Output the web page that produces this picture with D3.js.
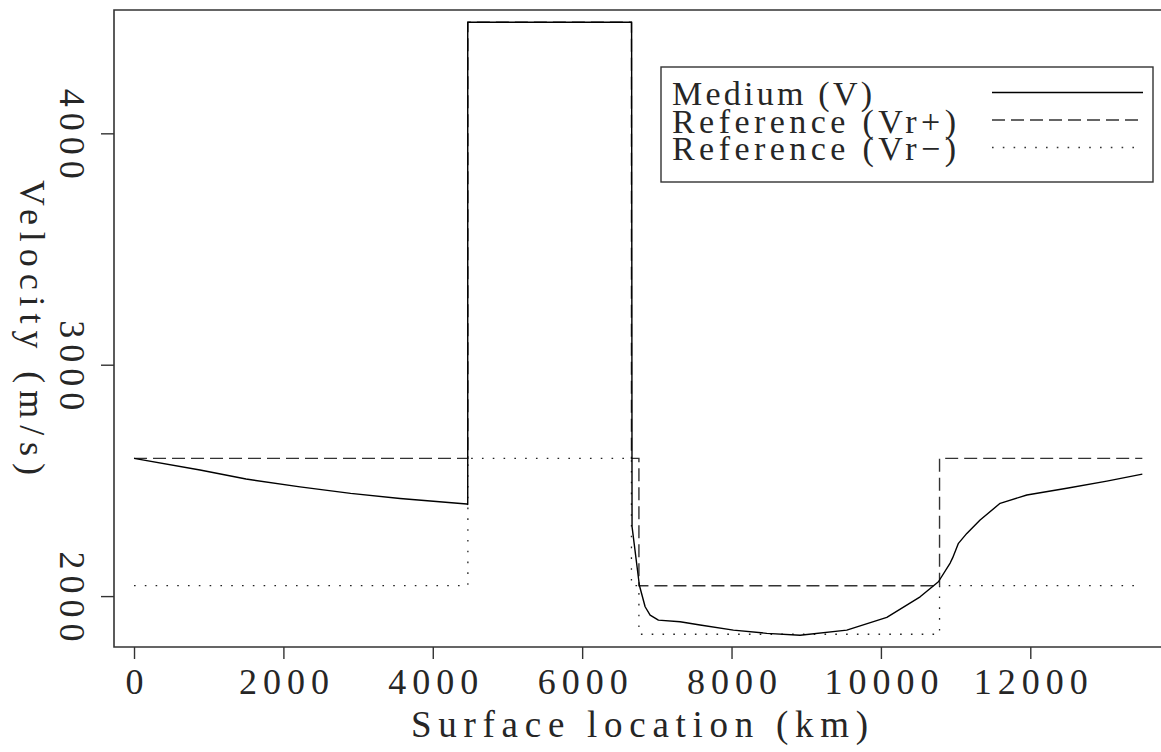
<!DOCTYPE html>
<html>
<head>
<meta charset="utf-8">
<script src="https://d3js.org/d3.v7.min.js"></script>
<style>
  body { margin: 0; background: #fff; }
  text { font-family: "Liberation Serif", "DejaVu Serif", serif; fill: #262626; }
</style>
</head>
<body>
<script>
// medium velocity V(x)
var mediumX = [0, 884, 1500, 2223, 2900, 3562, 4455, 4468, 4468, 6662, 6668, 6766, 6843, 6910, 7021, 7311, 7579,
  8025, 8472, 8918, 9543, 10079, 10525, 10770, 10927, 10960, 11038, 11150, 11328, 11596, 11954,
  12489, 13025, 13500];
var mediumV = [2595, 2545, 2506, 2472, 2444, 2422, 2398, 2396, 4480, 4480, 2300, 2047, 1954, 1918, 1896, 1889, 1875,
  1853, 1839, 1831, 1853, 1908, 1997, 2062, 2143, 2165, 2228, 2271, 2329, 2401, 2437,
  2466, 2497, 2527];

// reference velocities, piecewise constant between the breaks
var refBreaks = [0, 4470, 6660, 6760, 10785, 13500];
var refPlus = [2595, 4480, 2595, 2045, 2595];
var refMinus = [2045, 2595, 2045, 1835, 2045];

var xTicks = [0, 2000, 4000, 6000, 8000, 10000, 12000];
var yTicks = [2000, 3000, 4000];
var legendLabels = ["Medium (V)", "Reference (Vr+)", "Reference (Vr\u2212)"];

var W = 1161, H = 752;
// note: "top" is taken by window.top, so prefix these
var pLeft = 114, pTop = 10, pBottom = 647, pRight = 1161;

var svg = d3.select("body").append("svg")
  .attr("width", W)
  .attr("height", H);

var x = d3.scaleLinear().domain([-268, 13750]).range([pLeft, pRight]);
var y = d3.scaleLinear().domain([1780, 4533]).range([pBottom, pTop]);

var ink = "#262626";

// step series -> point list (last value carried to the end)
function stepPoints(breaks, vals) {
  var pts = vals.map(function(v, i) { return [breaks[i], v]; });
  pts.push([breaks[breaks.length - 1], vals[vals.length - 1]]);
  return pts;
}

var line = d3.line()
  .x(function(d) { return x(d[0]); })
  .y(function(d) { return y(d[1]); });
var stepLine = d3.line()
  .x(function(d) { return x(d[0]); })
  .y(function(d) { return y(d[1]); })
  .curve(d3.curveStepAfter);

var plot = svg.append("g");

plot.append("path")
  .datum(stepPoints(refBreaks, refMinus))
  .attr("d", stepLine)
  .attr("fill", "none")
  .attr("stroke", "#222")
  .attr("stroke-width", 1.3)
  .attr("stroke-dasharray", "1.6,9.2");

plot.append("path")
  .datum(stepPoints(refBreaks, refPlus))
  .attr("d", stepLine)
  .attr("fill", "none")
  .attr("stroke", "#333")
  .attr("stroke-width", 1.4)
  .attr("stroke-dasharray", "13,6");

plot.append("path")
  .datum(mediumX.map(function(d, i) { return [d, mediumV[i]]; }))
  .attr("d", line)
  .attr("fill", "none")
  .attr("stroke", "#000")
  .attr("stroke-width", 1.4)
  .attr("stroke-linejoin", "round");

// frame: left, top, bottom (open on the right)
svg.append("path")
  .attr("d", "M" + pRight + "," + pTop + "H" + pLeft + "V" + pBottom + "H" + pRight)
  .attr("fill", "none")
  .attr("stroke", "#333")
  .attr("stroke-width", 1.6);

// x axis
var gx = svg.append("g")
  .attr("transform", "translate(0," + pBottom + ")")
  .call(d3.axisBottom(x).tickValues(xTicks).tickSize(12).tickFormat(d3.format("d")));
gx.select(".domain").remove();
gx.selectAll(".tick line").attr("stroke", "#333").attr("stroke-width", 1.4);
gx.selectAll(".tick text")
  .attr("y", 47)
  .attr("dy", null)
  .attr("dx", 3)
  .style("font-size", "36px")
  .style("letter-spacing", "6px")
  .attr("fill", ink);

// y axis, labels turned to read downward
var gy = svg.append("g")
  .attr("transform", "translate(" + pLeft + ",0)")
  .call(d3.axisLeft(y).tickValues(yTicks).tickSize(13).tickFormat(d3.format("d")));
gy.select(".domain").remove();
gy.selectAll(".tick line").attr("stroke", "#333").attr("stroke-width", 1.4);
gy.selectAll(".tick text")
  .attr("x", null)
  .attr("dy", null)
  .attr("text-anchor", "middle")
  .attr("transform", "translate(-54,0) rotate(90)")
  .attr("dx", 3)
  .style("font-size", "36px")
  .style("letter-spacing", "6px")
  .attr("fill", ink);

// axis titles
svg.append("text")
  .attr("x", 411)
  .attr("y", 737)
  .attr("textLength", 457)
  .attr("lengthAdjust", "spacing")
  .style("font-size", "37px")
  .text("Surface location (km)");

svg.append("text")
  .attr("transform", "translate(20,180) rotate(90)")
  .attr("textLength", 295)
  .attr("lengthAdjust", "spacing")
  .style("font-size", "36px")
  .text("Velocity (m/s)");

// legend
var legend = svg.append("g");
legend.append("rect")
  .attr("x", 661).attr("y", 67)
  .attr("width", 492).attr("height", 115)
  .attr("fill", "#fff")
  .attr("stroke", "#333")
  .attr("stroke-width", 1.4);

var legendWidths = [200, 284, 284];
var legendDash = [null, "13,6", "1.6,9.2"];
legendLabels.forEach(function(lbl, i) {
  var base = 105 + i * 27.5;
  legend.append("text")
    .attr("x", 672)
    .attr("y", base)
    .attr("textLength", legendWidths[i])
    .attr("lengthAdjust", "spacing")
    .style("font-size", "34px")
    .text(lbl);
  legend.append("line")
    .attr("x1", 992).attr("x2", 1143)
    .attr("y1", base - 12.5).attr("y2", base - 12.5)
    .attr("stroke", i == 0 ? "#000" : "#333")
    .attr("stroke-width", 1.4)
    .attr("stroke-dasharray", legendDash[i]);
});
</script>
</body>
</html>
